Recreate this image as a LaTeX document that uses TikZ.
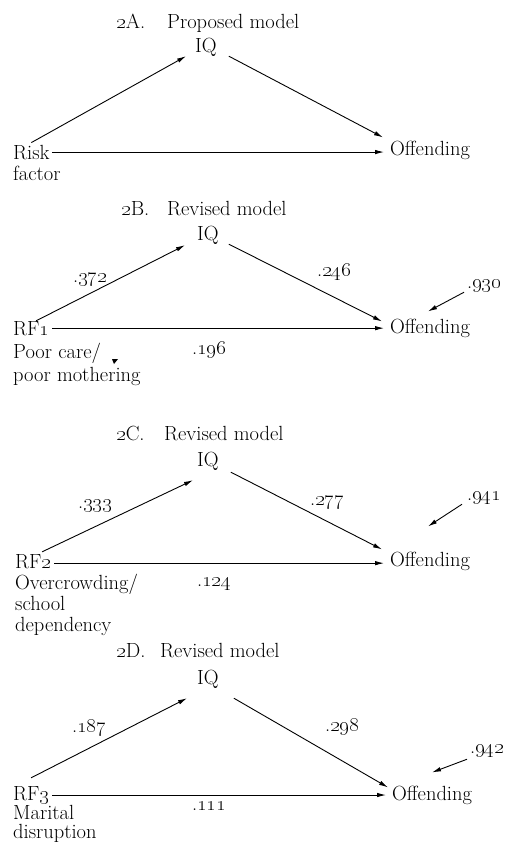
\documentclass[tikz,border=0pt]{standalone}
\usepackage{tikz}
\usetikzlibrary{arrows.meta}

\newcommand{\osn}[1]{\oldstylenums{#1}}

\begin{document}
\begin{tikzpicture}[x=1pt,y=-1pt,
	lbl/.style={inner sep=0pt,anchor=base west,font=\fontsize{20.5pt}{23pt}\selectfont},
	link/.style={line width=0.9pt,-{Latex[length=9pt,width=4.5pt]}}]
	\useasboundingbox (0,0) rectangle (506,847);

	% (2A) proposed model
	\node[lbl] (tagA) at (116,28) {\osn{2}A.};
	\node[lbl] (titA) at (167,28) {Proposed model};
	\node[lbl] (iqA) at (195,52) {IQ};
	\node[lbl] (rfA) at (13,159) {Risk};
	\node[lbl] (rfAb) at (13,180) {factor};
	\node[lbl] (offA) at (390,155) {Offending};
	\draw[link] ([yshift=2pt]rfA.north) -- ([xshift=-9pt]iqA.south west);
	\draw[link] ([xshift=12pt]iqA.south east) -- ([xshift=-7pt,yshift=3pt]offA.north west);
	\draw[link, shorten <=2pt, shorten >=6pt] (rfA.east) -- (rfA.east -| offA.west);

	% (2B) revised model, RF1
	\node[lbl] (tagB) at (121,215) {\osn{2}B.};
	\node[lbl] (titB) at (167,215) {Revised model};
	\node[lbl] (iqB) at (197,240) {IQ};
	\node[lbl] (rfB) at (13,335) {RF\osn{1}};
	\node[lbl] (rfBb) at (13,358) {Poor care/};
	\node[lbl] (rfBc) at (13,381) {poor mothering};
	\node[lbl] (offB) at (390,333) {Offending};
	\node[lbl] (cB1) at (73,282) {.\osn{372}};
	\node[lbl] (cB2) at (317,276) {.\osn{246}};
	\node[lbl] (cB3) at (192,354) {.\osn{196}};
	\node[lbl] (eB) at (467,288) {.\osn{930}};
	\draw[link] ([xshift=5pt]rfB.north) -- ([xshift=-12pt,yshift=-1pt]iqB.south west);
	\draw[link] ([xshift=10pt]iqB.south east) -- ([xshift=-8pt,yshift=-3pt]offB.north west);
	\draw[link, shorten <=3pt, shorten >=6pt] (rfB.east) -- (rfB.east -| offB.west);
	\draw[link] ([xshift=-3pt]eB.south west) -- ([xshift=38pt,yshift=7pt]offB.north west);
	\fill (112,359) -- (118,359) -- (114,364) -- cycle;

	% (2C) revised model, RF2
	\node[lbl] (tagC) at (116,440) {\osn{2}C.};
	\node[lbl] (titC) at (164,440) {Revised model};
	\node[lbl] (iqC) at (197,466) {IQ};
	\node[lbl] (rfC) at (15,568) {RF\osn{2}};
	\node[lbl] (rfCb) at (15,589) {Overcrowding/};
	\node[lbl] (rfCc) at (15,610) {school};
	\node[lbl] (rfCd) at (15,631) {dependency};
	\node[lbl] (offC) at (390,566) {Offending};
	\node[lbl] (cC1) at (78,508) {.\osn{333}};
	\node[lbl] (cC2) at (310,505) {.\osn{277}};
	\node[lbl] (cC3) at (197,586) {.\osn{124}};
	\node[lbl] (eC) at (467,500) {.\osn{941}};
	\draw[link] ([xshift=9pt,yshift=2pt]rfC.north) -- ([xshift=-4pt,yshift=-10pt]iqC.south west);
	\draw[link] ([xshift=12pt,yshift=-2pt]iqC.south east) -- ([xshift=-8pt,yshift=2pt]offC.north west);
	\draw[link, shorten <=3pt, shorten >=6pt] ([yshift=-2pt]rfC.east) -- ([yshift=-2pt]rfC.east -| offC.west);
	\draw[link] ([xshift=-5pt]eC.south west) -- ([xshift=38pt,yshift=25pt]offC.north west);

	% (2D) revised model, RF3
	\node[lbl] (tagD) at (116,657) {\osn{2}D.};
	\node[lbl] (titD) at (160,657) {Revised model};
	\node[lbl] (iqD) at (197,684) {IQ};
	\node[lbl] (rfD) at (13,800) {RF\osn{3}};
	\node[lbl] (rfDb) at (13,819) {Marital};
	\node[lbl] (rfDc) at (13,838) {disruption};
	\node[lbl] (offD) at (392,800) {Offending};
	\node[lbl] (cD1) at (72,732) {.\osn{187}};
	\node[lbl] (cD2) at (325,731) {.\osn{298}};
	\node[lbl] (cD3) at (192,810) {.\osn{111}};
	\node[lbl] (eD) at (470,753) {.\osn{942}};
	\draw[link] ([yshift=8pt]rfD.north) -- ([xshift=-10pt,yshift=-10pt]iqD.south west);
	\draw[link] ([xshift=15pt,yshift=-10pt]iqD.south east) -- ([xshift=-4pt,yshift=-2pt]offD.north west);
	\draw[link, shorten <=3pt, shorten >=6pt] (rfD.east) -- (rfD.east -| offD.west);
	\draw[link] ([xshift=-3pt,yshift=-2pt]eD.south west) -- ([xshift=40pt,yshift=13pt]offD.north west);

\end{tikzpicture}
\end{document}
